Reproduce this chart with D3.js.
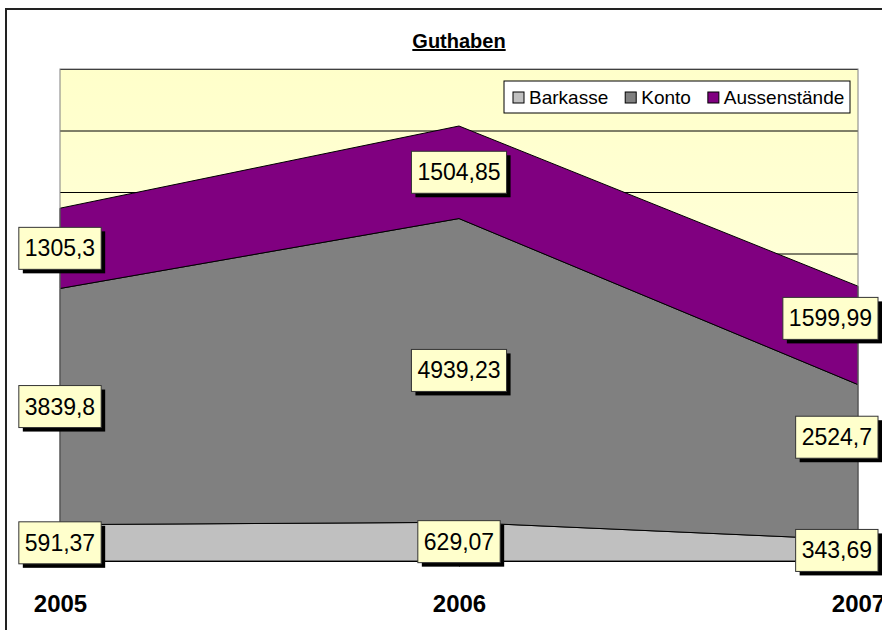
<!DOCTYPE html>
<html>
<head>
<meta charset="utf-8">
<script src="https://cdn.jsdelivr.net/npm/d3@7"></script>
<style>
  body { margin: 0; background: #fff; }
  svg { display: block; font-family: "Liberation Sans", Arial, sans-serif; }
</style>
</head>
<body>
<svg id="chart"></svg>
<script>
// data
const years = [2005, 2006, 2007];
const seriesNames = ["Barkasse", "Konto", "Aussenstände"];
const barkasse = [591.37, 629.07, 343.69];
const konto = [3839.8, 4939.23, 2524.7];
const aussenstaende = [1305.3, 1504.85, 1599.99];
const yTicks = [0, 1000, 2000, 3000, 4000, 5000, 6000, 7000, 8000];

const colors = ["#C0C0C0", "#808080", "#800080"];

// excel moved some labels of the last year a bit up
const labelNudge = { "Konto-2007": -25, "Aussenstände-2007": -17 };

const W = 882, H = 630;
const plot = { left: 60, right: 858, top: 69, bottom: 561 };

const svg = d3.select("#chart").attr("width", W).attr("height", H);

// chart area border (runs off the bottom/right of the picture)
svg.append("rect")
    .attr("x", 6).attr("y", 9)
    .attr("width", W + 20).attr("height", H + 20)
    .attr("fill", "#fff")
    .attr("stroke", "#222")
    .attr("stroke-width", 2);

// title
svg.append("text")
    .attr("x", 459).attr("y", 48)
    .attr("text-anchor", "middle")
    .attr("font-size", 20)
    .attr("font-weight", "bold")
    .attr("text-decoration", "underline")
    .text("Guthaben");

const xScale = d3.scaleLinear([years[0], years[years.length - 1]], [plot.left, plot.right]);
const yScale = d3.scaleLinear([0, 8000], [plot.bottom, plot.top]);

// plot background
const defs = svg.append("defs");
const grad = defs.append("linearGradient").attr("id", "bg")
    .attr("x1", 0).attr("y1", 0).attr("x2", 0).attr("y2", 1);
grad.append("stop").attr("offset", "0%").attr("stop-color", "#FFFFCA");
grad.append("stop").attr("offset", "100%").attr("stop-color", "#FFFFEC");

svg.append("rect")
    .attr("x", plot.left).attr("y", plot.top)
    .attr("width", plot.right - plot.left)
    .attr("height", plot.bottom - plot.top)
    .attr("fill", "url(#bg)");

// gridlines
const yAxis = d3.axisLeft(yScale).tickValues(yTicks)
    .tickSize(-(plot.right - plot.left)).tickFormat("");
const yAxisG = svg.append("g")
    .attr("transform", `translate(${plot.left},0)`)
    .call(yAxis);
yAxisG.select(".domain").remove();
yAxisG.selectAll("line").attr("stroke", "#000").attr("stroke-width", 1);

// stacked areas
const table = years.map((y, i) => ({
    year: y,
    "Barkasse": barkasse[i],
    "Konto": konto[i],
    "Aussenstände": aussenstaende[i]
}));

const stack = d3.stack().keys(seriesNames);
const layers = stack(table);

const area = d3.area()
    .x(d => xScale(d.data.year))
    .y0(d => yScale(d[0]))
    .y1(d => yScale(d[1]));

svg.append("g").selectAll("path")
    .data(layers)
    .join("path")
    .attr("d", area)
    .attr("fill", (d, i) => colors[i])
    .attr("stroke", "#000")
    .attr("stroke-width", 1)
    .attr("stroke-linejoin", "miter");

// plot border
svg.append("rect")
    .attr("x", plot.left).attr("y", plot.top)
    .attr("width", plot.right - plot.left)
    .attr("height", plot.bottom - plot.top)
    .attr("fill", "none")
    .attr("stroke", "#808080")
    .attr("stroke-width", 1);

// x axis
const xAxis = d3.axisBottom(xScale).tickValues(years).tickSize(6).tickFormat(d3.format("d"));
const xAxisG = svg.append("g")
    .attr("transform", `translate(0,${plot.bottom})`)
    .call(xAxis);
xAxisG.select(".domain").attr("stroke", "#000");
xAxisG.selectAll(".tick line").attr("stroke", "#888");
xAxisG.selectAll(".tick text")
    .attr("y", 0).attr("dy", 51)
    .attr("font-size", 24)
    .attr("font-weight", "bold")
    .attr("font-family", "'Liberation Sans', Arial, sans-serif")
    .attr("fill", "#000");

// data labels
const labelG = svg.append("g");
layers.forEach(layer => {
    layer.forEach(d => {
        const value = d.data[layer.key];
        const txt = String(value).replace(".", ",");
        const key = `${layer.key}-${d.data.year}`;
        const cy = yScale((d[0] + d[1]) / 2) + (labelNudge[key] || 0);

        const g = labelG.append("g");
        const t = g.append("text")
            .attr("font-size", 23)
            .attr("text-anchor", "middle")
            .text(txt);
        const tw = t.node().getComputedTextLength();
        const bw = tw + 12, bh = 42;
        let cx = xScale(d.data.year);
        cx = Math.min(cx, 878 - bw / 2);
        cx = Math.max(cx, 17 + bw / 2);

        g.insert("rect", "text")
            .attr("x", cx - bw / 2 + 4).attr("y", cy - bh / 2 + 4)
            .attr("width", bw).attr("height", bh)
            .attr("fill", "#000");
        g.insert("rect", "text")
            .attr("x", cx - bw / 2).attr("y", cy - bh / 2)
            .attr("width", bw).attr("height", bh)
            .attr("fill", "#FFFFCC")
            .attr("stroke", "#333")
            .attr("stroke-width", 1);
        t.attr("x", cx).attr("y", cy + 8);
    });
});

// legend
const legend = svg.append("g");
legend.append("rect")
    .attr("x", 504).attr("y", 81)
    .attr("width", 346).attr("height", 32)
    .attr("fill", "#fff")
    .attr("stroke", "#000")
    .attr("stroke-width", 1);

let lx = 513;
seriesNames.forEach((name, i) => {
    legend.append("rect")
        .attr("x", lx).attr("y", 92)
        .attr("width", 11).attr("height", 11)
        .attr("fill", colors[i])
        .attr("stroke", "#000")
        .attr("stroke-width", 1);
    const t = legend.append("text")
        .attr("x", lx + 16).attr("y", 104)
        .attr("font-size", 19)
        .text(name);
    lx += 16 + t.node().getComputedTextLength() + 17;
});
</script>
</body>
</html>
